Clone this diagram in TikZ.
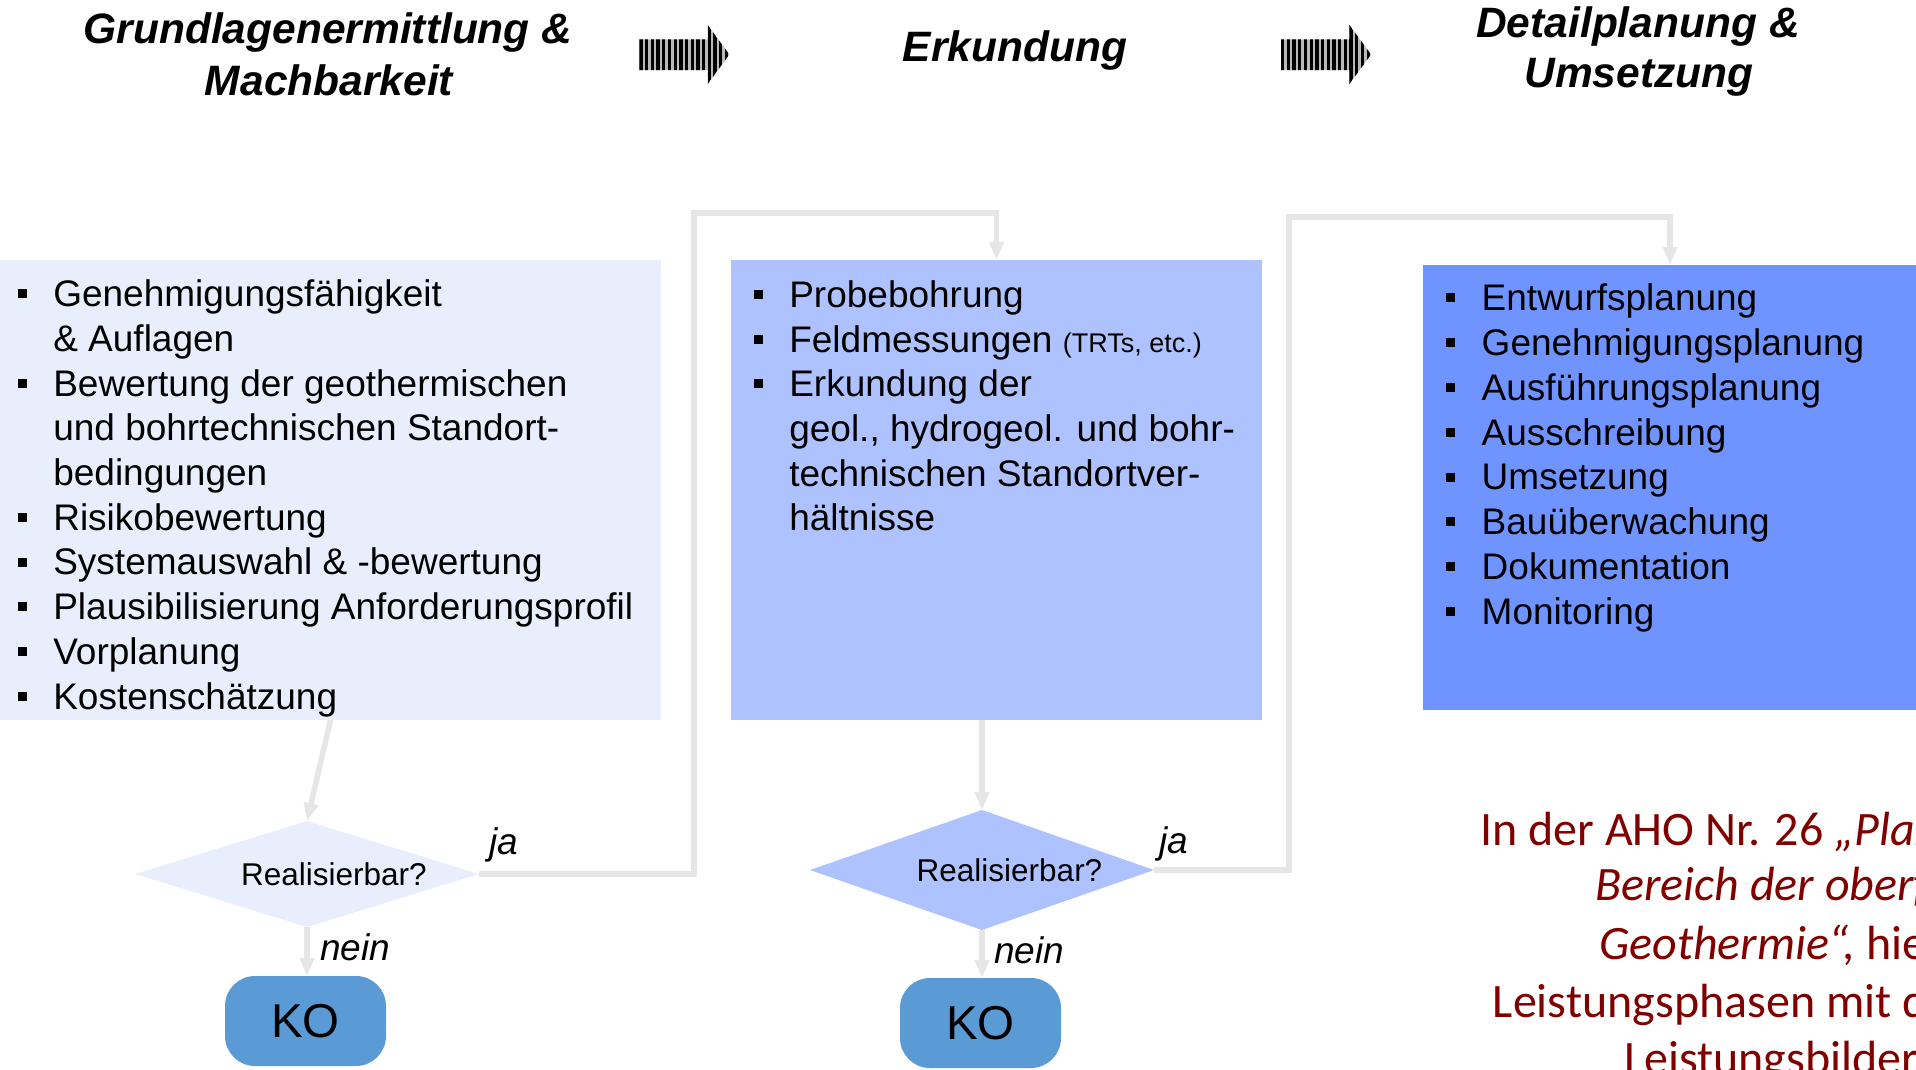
\documentclass[tikz,border=0pt]{standalone}
\usepackage{fontspec}
\setmainfont{Liberation Sans}
\newfontfamily\calib{Carlito}
\usetikzlibrary{shapes.geometric,arrows.meta}
\definecolor{boxA}{RGB}{232,238,252}
\definecolor{boxB}{RGB}{173,194,255}
\definecolor{boxC}{RGB}{112,148,255}
\definecolor{koBlue}{RGB}{91,155,213}
\definecolor{connGray}{RGB}{230,230,230}
\definecolor{stripeGray}{RGB}{185,185,185}
\definecolor{ahoRed}{RGB}{128,0,0}
\tikzset{
  box/.style={inner sep=0pt, outer sep=0pt},
  itemtxt/.style={anchor=base west, inner sep=0pt, outer sep=0pt, font=\fontsize{37}{44.8}\selectfont},
  bulletsq/.style={fill=black, minimum size=9pt, inner sep=0pt, outer sep=0pt},
  conn/.style={draw=connGray, line width=5.5pt, line join=miter, -{Triangle[length=18pt,width=14pt]}},
  headtxt/.style={anchor=base, inner sep=0pt, font=\fontsize{42.5}{51}\selectfont\bfseries\itshape},
  decision/.style={shape=diamond, inner sep=0pt, outer sep=0pt, minimum width=344pt},
  dectxt/.style={anchor=base, inner sep=0pt, font=\fontsize{31.5}{37}\selectfont},
  kobox/.style={fill=koBlue, rounded corners=30pt, minimum width=161pt, minimum height=90pt, inner sep=0pt, outer sep=0pt, font=\fontsize{47.5}{50}\selectfont},
  lbl/.style={anchor=base west, inner sep=0pt, font=\fontsize{37}{44}\selectfont\itshape},
  redtxt/.style={anchor=base west, inner sep=0pt, text=ahoRed, font=\calib\fontsize{48}{57.3}\selectfont}
}
\newcommand\lstline[4]{\node[itemtxt] (#1) at (#2,#3) {#4};}
\newcommand\lstbul[4]{\node[bulletsq] (#1b) at (#2-31,#3-12.8) {};\node[itemtxt] (#1) at (#2,#3) {#4};}
\newcommand\stripearrow[1]{%
  \begin{scope}
    \path[fill=stripeGray] (#1,39.3) -- (#1+68.4,39.3) -- (#1+68.4,25) -- (#1+90,54.5) -- (#1+68.4,84) -- (#1+68.4,70) -- (#1,70) -- cycle;
    \clip (#1,39.3) -- (#1+68.4,39.3) -- (#1+68.4,25) -- (#1+90,54.5) -- (#1+68.4,84) -- (#1+68.4,70) -- (#1,70) -- cycle;
    \foreach \i in {0,...,16} {\fill[black] (#1+5.7*\i,20) rectangle (#1+5.7*\i+3.3,90);}
  \end{scope}}
\begin{document}
\begin{tikzpicture}[x=1pt,y=-1pt]
\useasboundingbox (0,0) rectangle (1916,1069);
\clip (0,0) rectangle (1916,1069);
\fill[white] (0,0) rectangle (1916,1069);

% headers
\node[headtxt] (h1a) at (328,43.3) {Grundlagenermittlung \&};
\node[headtxt] (h1b) at (329,95) {Machbarkeit};
\node[headtxt] (h2) at (1015,61.7) {Erkundung};
\node[headtxt] (h3a) at (1638,37.3) {Detailplanung \&};
\node[headtxt] (h3b) at (1639,87.3) {Umsetzung};
\stripearrow{639.3}
\stripearrow{1281}

% boxes
\node[box, fill=boxA, minimum width=661pt, minimum height=460pt] (b1) at (330.5,490) {};
\node[box, fill=boxB, minimum width=531pt, minimum height=460pt] (b2) at (996.5,490) {};
\node[box, fill=boxC, minimum width=494pt, minimum height=445pt] (b3) at (1670,487.5) {};

% box 1 list
\lstbul{a0}{53.3}{306.7}{Genehmigungsfähigkeit}
\lstline{a1}{53.3}{351.4}{\& Auflagen}
\lstbul{a2}{53.3}{396.1}{Bewertung der geothermischen}
\lstline{a3}{53.3}{440.8}{und bohrtechnischen Standort-}
\lstline{a4}{53.3}{485.5}{bedingungen}
\lstbul{a5}{53.3}{530.2}{Risikobewertung}
\lstbul{a6}{53.3}{574.9}{Systemauswahl \& -bewertung}
\lstbul{a7}{53.3}{619.6}{Plausibilisierung Anforderungsprofil}
\lstbul{a8}{53.3}{664.3}{Vorplanung}
\lstbul{a9}{53.3}{709.0}{Kostenschätzung}

% box 2 list
\lstbul{e0}{789.3}{307.3}{Probebohrung}
\lstbul{e1}{789.3}{352.0}{Feldmessungen {\fontsize{27}{27}\selectfont(TRTs, etc.)}}
\lstbul{e2}{789.3}{396.7}{Erkundung der}
\lstline{e3}{789.3}{441.4}{geol., hydrogeol. und bohr-}
\lstline{e4}{789.3}{486.1}{technischen Standortver-}
\lstline{e5}{789.3}{530.8}{hältnisse}

% box 3 list
\lstbul{u0}{1481.7}{310.7}{Entwurfsplanung}
\lstbul{u1}{1481.7}{355.5}{Genehmigungsplanung}
\lstbul{u2}{1481.7}{400.3}{Ausführungsplanung}
\lstbul{u3}{1481.7}{445.1}{Ausschreibung}
\lstbul{u4}{1481.7}{489.9}{Umsetzung}
\lstbul{u5}{1481.7}{534.7}{Bauüberwachung}
\lstbul{u6}{1481.7}{579.5}{Dokumentation}
\lstbul{u7}{1481.7}{624.3}{Monitoring}

% decisions
\node[decision, fill=boxA, minimum height=106pt] (d1) at (307,874) {};
\node[dectxt] (d1t) at (334,885) {Realisierbar?};
\node[decision, fill=boxB, minimum height=120pt] (d2) at (982,870) {};
\node[dectxt] (d2t) at (1009.5,881.7) {Realisierbar?};

% KO
\node[kobox] (k1) at (305.5,1021) {KO};
\node[kobox] (k2) at (980.5,1023) {KO};

% connectors
\coordinate (c1) at (694,213);
\coordinate (c2) at (1289,217);
\draw[conn] (b1.south) -- (d1.north);
\draw[conn] (b2.south -| d2.north) -- (d2.north);
\draw[conn] (d1.east) -| (c1) -| (b2.north);
\draw[conn] (d2.east) -| (c2) -| (b3.north);
\draw[conn] (d1.south) -- (d1.south |- k1.north);
\draw[conn] (d2.south) -- (d2.south |- k2.north);

% labels
\node[lbl] (ja1) at (489,854) {ja};
\node[lbl] (nein1) at (320,960) {nein};
\node[lbl] (ja2) at (1159,853) {ja};
\node[lbl] (nein2) at (994,963) {nein};

% red note
\node[redtxt] (r1) at (1480,845) {In der AHO Nr. 26 \textit{„Plan}};
\node[redtxt] (r2) at (1595,900.7) {\textit{Bereich der oberf}};
\node[redtxt] (r3) at (1599,959) {\textit{Geothermie“,} hie};
\node[redtxt] (r4) at (1492.7,1017) {Leistungsphasen mit d};
\node[redtxt] (r5) at (1624,1074.5) {Leistungsbilder};
\end{tikzpicture}
\end{document}
